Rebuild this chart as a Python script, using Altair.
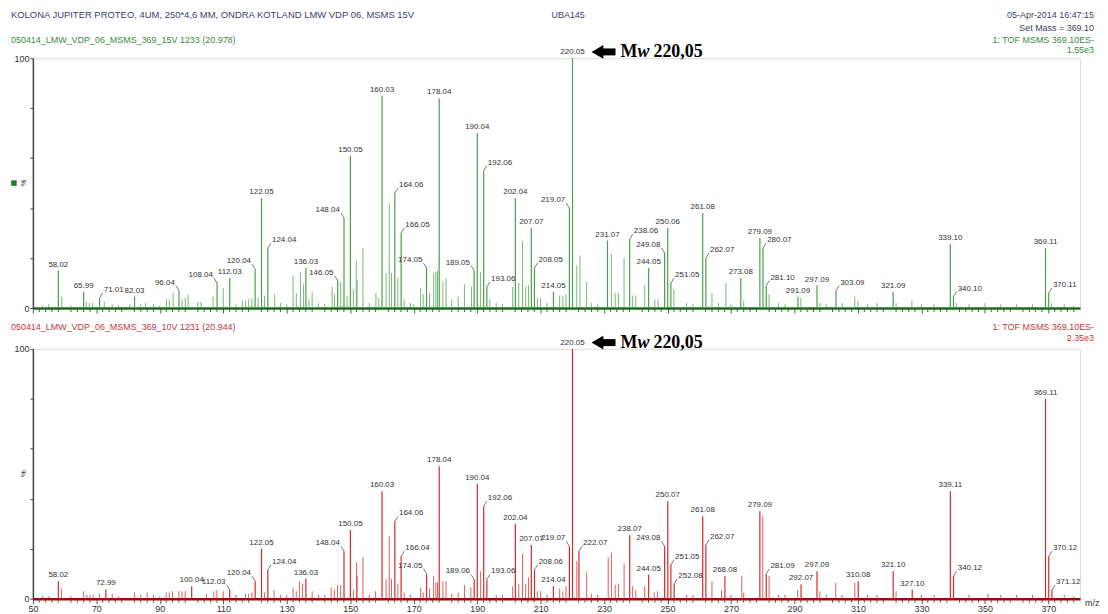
import altair as alt
import pandas as pd

# ---------------- data: top panel (MSMS 15 V) ----------------
top_lab_mz = [58.02, 65.99, 71.01, 82.03, 96.04, 108.04, 112.03, 120.04, 122.05, 124.04, 136.03, 146.05, 148.04, 150.05,
              160.03, 164.06, 166.05, 174.05, 178.04, 189.05, 190.04, 192.06, 193.06, 202.04, 207.07, 208.05, 214.05, 219.07, 220.05,
              231.07, 238.06, 244.05, 249.08, 250.06, 251.05, 261.08, 262.07, 273.08, 279.09, 280.07, 281.10, 291.09, 297.09, 303.09,
              321.09, 339.10, 340.10, 369.11, 370.11]
top_lab_int = [15, 6.5, 4, 4.5, 7, 10, 12, 15.5, 44, 24, 16, 11, 36, 61,
               85, 46, 30, 16, 84, 15, 70, 55, 8.5, 44, 32, 16, 6.5, 40, 100,
               27, 27.5, 16, 22, 32, 10, 38, 20, 12, 28, 24, 9, 4.5, 9, 7,
               6.5, 25.5, 4.5, 24, 6]
top_minor_mz = [53, 55, 59.1, 62, 66.8, 67.8, 68.8, 72.5, 75, 77, 80.5, 84, 85.5, 88, 90, 92.1, 93.0, 94.2, 97.0, 98.0, 98.9,
                102.0, 103.0, 106.8, 110.0, 114, 116, 117, 118, 119, 121, 123, 126.2, 128, 130, 132, 133, 134.3, 135.3, 137, 138,
                140, 142, 144.3, 145, 147, 149, 151, 151.9, 152.2, 154, 156, 158.1, 159, 161.3, 162.3, 163, 165, 167, 169, 170,
                172.2, 173, 175, 176.3, 177, 177.5, 179.2, 180.2, 182, 184, 186, 188.2, 191.1, 194, 196, 198, 201.2, 203.1, 204.3,
                205.3, 206.2, 209, 210, 212, 216, 217, 218, 221.4, 222.4, 224.5, 226, 228, 232.3, 233.5, 234.5, 236.3, 239, 240,
                242.8, 246, 247, 252, 256, 258, 264, 266, 268.4, 270, 274, 282, 285, 287, 292, 298, 300, 305, 309, 310, 313, 316,
                322, 327, 330, 334, 341, 345, 350, 355, 360, 365, 371, 375, 378]
top_minor_int = [1, 1.5, 4.5, 1, 2.5, 2, 2, 2.5, 1.5, 1, 1.5, 1.5, 2, 1.5, 1, 3.5, 3.5, 6, 3.5, 4, 5.5,
                 2.5, 2.5, 4.5, 8, 1.5, 3, 3, 3.5, 4, 4, 5, 5.5, 2, 1.5, 13, 6, 14.5, 9.5, 3.5, 6.5,
                 2, 1.5, 8.5, 5.5, 10.5, 5, 7.5, 19, 11, 24, 2, 6, 4, 14, 42, 14, 12, 3.5, 2, 1.5,
                 8, 5.5, 6, 14, 14.5, 15, 10.5, 12, 3.5, 4.5, 9.5, 8.5, 14.5, 3.5, 2, 1.5, 8.5, 10, 26.7,
                 8.5, 9, 4, 4, 2, 5, 5, 5.5, 17, 21, 10.5, 2, 1.5, 21.5, 6, 6, 20, 5, 5,
                 9, 3.5, 3.5, 7.5, 2, 1.5, 6, 2, 10, 1.5, 3, 5.5, 2, 1.5, 4, 2, 1.5, 2, 4.5, 3, 1.5, 2,
                 2, 3, 1.5, 1.5, 2, 1.5, 2, 1.5, 1.5, 1.5, 2, 1.5, 1]
top_right = {"71.01", "124.04", "164.06", "166.05", "192.06", "193.06", "208.05", "238.06", "251.05", "262.07",
             "280.07", "281.10", "303.09", "340.10", "370.11"}
top_left = {"96.04", "108.04", "120.04", "146.05", "148.04", "174.05", "189.05", "219.07", "249.08"}

# ---------------- data: bottom panel (MSMS 10 V) ----------------
bot_lab_mz = [58.02, 72.99, 100.04, 112.03, 120.04, 122.05, 124.04, 136.03, 148.04, 150.05,
              160.03, 164.06, 166.04, 174.05, 178.04, 189.06, 190.04, 192.06, 193.06, 202.04, 207.07, 208.06, 214.04, 219.07,
              220.05, 222.07, 238.07, 244.05, 249.08, 250.07, 251.05, 252.08, 261.08, 262.07, 268.08,
              279.09, 281.09, 292.07, 297.09, 310.08, 321.10, 327.10, 339.11, 340.12, 369.11, 370.12, 371.12]
bot_lab_int = [7, 3.7, 5, 3.5, 7, 20, 11.6, 8, 19, 27.5,
               43, 31, 17, 10, 53, 7.7, 46, 37, 7.7, 30, 21.5, 11.6, 5, 21,
               100, 19, 25.5, 9.6, 21, 39, 13.6, 6, 33, 21.5, 9,
               35, 10, 5.7, 11, 7, 11, 3.6, 43, 9, 80, 17, 3.5]
bot_minor_mz = [53, 55, 59, 62, 66, 67, 68, 69, 71, 75, 77, 82, 84, 86, 88, 90, 92, 93, 94, 96, 97, 98, 104.7, 107, 108, 110,
                114, 117, 118, 119, 123, 126, 128, 130, 132, 133, 134, 135, 138, 140, 142, 144, 145, 146, 147, 151, 152, 152.2,
                154, 156, 158, 161.3, 162.3, 163, 165, 167, 169, 172.2, 173, 175, 176.3, 177, 177.5, 179.2, 180.2, 182, 184, 186,
                188, 191.1, 196, 198, 201.2, 203.1, 204.3, 205.3, 206.2, 209, 210, 212, 216, 217, 218, 221.4, 224.5, 226, 228,
                231.3, 232.3, 233.5, 234.5, 236.3, 239, 240, 242.8, 245.8, 246.8, 256, 258, 264, 267, 270, 273.4, 274, 280, 282,
                285, 287, 291, 298, 300, 303, 305, 309, 313, 316, 322, 330, 334, 345, 351, 355, 360, 365, 375, 378]
bot_minor_int = [1, 1, 4, 1, 3, 1.5, 1.5, 1.5, 2, 2, 1, 2.5, 1.5, 2.5, 1.5, 1, 2.5, 2.5, 3, 3, 3, 3, 2, 3, 3.5, 3,
                 1.5, 2, 2, 2.5, 2.5, 3.5, 1.5, 1.5, 4.5, 3, 7, 6, 3, 1.5, 1.5, 4.5, 3.5, 5.5, 5.5, 3.5, 14.3, 9,
                 16.5, 1.5, 3, 7.7, 25, 8, 6, 2.5, 1.5, 4.5, 2.5, 4, 9, 6.5, 6.5, 7, 7, 2, 2.5, 5.5,
                 4.5, 11, 1.5, 1.5, 5, 6, 18, 6, 8.5, 3, 3, 1.5, 4, 3, 5, 15, 10.5, 2, 1.5,
                 16.5, 18.5, 5.5, 6, 14, 5, 3.5, 5, 2.5, 3, 1.5, 1.5, 7, 3.5, 1.5, 9, 2.5, 33, 9,
                 1.5, 1.5, 3.5, 3, 1.5, 6.3, 1.5, 6.3, 1.5, 1.5, 3, 1.5, 1.5, 1.5, 2, 1.5, 1.5, 1.5, 1.5, 1]
bot_right = {"124.04", "164.06", "166.04", "192.06", "193.06", "208.06", "222.07", "251.05", "252.08", "262.07",
             "281.09", "340.12", "370.12", "371.12"}
bot_left = {"112.03", "120.04", "148.04", "174.05", "189.06", "219.07", "249.08"}

x_major = list(range(50, 381, 10))
x_minor = [v for v in range(50, 381, 2) if v % 10]
y_ticks = list(range(0, 101, 10))

SANS = "Liberation Sans"
SERIF = "Liberation Serif"
HEAD = "#3d3d66"
LABEL = "#333333"

W, H = 1052, 251
xs = alt.Scale(domain=[50, 380], nice=False, zero=False)
ys = alt.Scale(domain=[0, 100], nice=False)


def hdr(text, px, py, color, align="left", size=9):
    return alt.Chart(pd.DataFrame({"t": [text]})).mark_text(
        align=align, baseline="middle", font=SANS, fontSize=size, color=color
    ).encode(x=alt.value(px), y=alt.value(py), text="t:N")


def panel(lab_mz, lab_int, minor_mz, minor_int, rset, lset, stick, base, show_labels, extra):
    lab = pd.DataFrame({"mz": lab_mz, "inten": lab_int})
    lab["label"] = [f"{m:.2f}" for m in lab_mz]
    lab["side"] = ["R" if s in rset else ("L" if s in lset else "C") for s in lab["label"]]
    minor = pd.DataFrame({"mz": minor_mz, "inten": minor_int})

    xaxis = alt.Axis(values=x_major, labels=show_labels, labelOverlap=False, labelFlush=False,
                     labelFont=SANS, labelFontSize=9, labelColor=LABEL, labelPadding=1,
                     tickSize=5, tickColor="#555555", domainColor=base, domainWidth=2.5,
                     grid=False, title=None)
    yaxis = alt.Axis(values=y_ticks, labelExpr="datum.value === 0 || datum.value === 100 ? datum.label : ''",
                     labelFont=SANS, labelFontSize=9, labelColor=LABEL, tickSize=3, tickColor="#444444",
                     domainColor="#444444", domainWidth=1.5, grid=False, title=None, labelPadding=1)

    X = alt.X("mz:Q", scale=xs, axis=xaxis)
    Y = alt.Y("inten:Q", scale=ys, axis=yaxis)

    minor_l = alt.Chart(minor).mark_rule(color=stick, strokeWidth=1, opacity=0.75).encode(
        x=X, y=Y, y2=alt.datum(0))
    main_l = alt.Chart(lab).mark_rule(color=stick, strokeWidth=1.2).encode(
        x=alt.X("mz:Q", scale=xs), y=alt.Y("inten:Q", scale=ys), y2=alt.datum(0))
    # minor axis ticks (every 2 m/z units)
    mticks = alt.Chart(pd.DataFrame({"mz": x_minor})).mark_rule(color="#555555", strokeWidth=1).encode(
        x=alt.X("mz:Q", scale=xs), y=alt.value(H + 1), y2=alt.value(H + 4))

    c_txt = alt.Chart(lab).transform_filter("datum.side === 'C'").mark_text(
        baseline="bottom", dy=-2, font=SANS, fontSize=8, color=LABEL
    ).encode(x=alt.X("mz:Q", scale=xs), y=alt.Y("inten:Q", scale=ys), text="label:N")

    layers = [minor_l, main_l, mticks, c_txt]
    for side, sgn, al in (("R", 1, "left"), ("L", -1, "right")):
        base_c = alt.Chart(lab).transform_filter(f"datum.side === '{side}'").transform_calculate(
            lx=f"datum.mz + {sgn} * 1.0", ly="datum.inten + 2")
        leader = base_c.mark_rule(color="#555555", strokeWidth=0.8).encode(
            x=alt.X("mz:Q", scale=xs), x2="lx:Q", y=alt.Y("inten:Q", scale=ys), y2="ly:Q")
        txt = base_c.mark_text(align=al, baseline="bottom", dx=sgn * 1, dy=1, font=SANS, fontSize=8,
                               color=LABEL).encode(
            x=alt.X("lx:Q", scale=xs), y=alt.Y("ly:Q", scale=ys), text="label:N")
        layers += [leader, txt]

    # arrow + "Mw 220,05" annotation
    arr_head = alt.Chart(pd.DataFrame({"mz": [227.9], "inten": [102.5]})).mark_point(
        shape="triangle-left", filled=True, size=190, color="black", opacity=1
    ).encode(x=alt.X("mz:Q", scale=xs), y=alt.Y("inten:Q", scale=ys))
    arr_body = alt.Chart(pd.DataFrame({"mz": [229.5], "mz2": [233.6], "inten": [102.5]})).mark_rule(
        color="black", strokeWidth=7
    ).encode(x=alt.X("mz:Q", scale=xs), x2="mz2:Q", y=alt.Y("inten:Q", scale=ys))
    mw = []
    for t, dx, style in (("M", 0, "normal"), ("w", 17, "italic"), ("220,05", 33, "normal")):
        mw.append(alt.Chart(pd.DataFrame({"mz": [235.2], "inten": [102.5], "t": [t]})).mark_text(
            align="left", baseline="middle", dx=dx, font=SERIF, fontSize=18, fontWeight="bold",
            fontStyle=style, color="black"
        ).encode(x=alt.X("mz:Q", scale=xs), y=alt.Y("inten:Q", scale=ys), text="t:N"))

    pct = alt.Chart(pd.DataFrame({"t": ["%"]})).mark_text(
        angle=270, font=SANS, fontSize=8, color=LABEL, baseline="middle", align="center"
    ).encode(x=alt.value(-9), y=alt.datum(50), text="t:N")

    layers += [arr_head, arr_body] + mw + [pct] + extra
    return alt.layer(*layers).properties(width=W, height=H)


GREEN_H = "#3a8a3a"
RED_H = "#c03a3a"

top_extra = [
    hdr("KOLONA JUPITER PROTEO, 4UM, 250*4,6 MM, ONDRA KOTLAND LMW VDP 06, MSMS 15V", -22, -43, HEAD, size=9.5),
    hdr("UBA145", 521, -43, HEAD),
    hdr("05-Apr-2014   16:47:15", 1066, -43, HEAD, "right"),
    hdr("Set Mass = 369.10", 1066, -30, HEAD, "right"),
    hdr("050414_LMW_VDP_06_MSMS_369_15V 1233 (20.978)", -22, -18, GREEN_H),
    hdr("1: TOF MSMS 369.10ES-", 1066, -18, GREEN_H, "right"),
    hdr("1.55e3", 1066, -8, GREEN_H, "right"),
    alt.Chart(pd.DataFrame({"v": [50]})).mark_square(size=30, color="#1f7a1f", opacity=1).encode(
        x=alt.value(-19), y=alt.datum(50)),
]
bot_extra = [
    hdr("050414_LMW_VDP_06_MSMS_369_10V 1231 (20.944)", -22, -22, RED_H),
    hdr("1: TOF MSMS 369.10ES-", 1066, -22, RED_H, "right"),
    hdr("2.35e3", 1066, -11, RED_H, "right"),
    hdr("m/z", 1057, 255, LABEL),
]

top = panel(top_lab_mz, top_lab_int, top_minor_mz, top_minor_int, top_right, top_left,
            "#4aa04a", "#1f6a1f", False, top_extra)
bot = panel(bot_lab_mz, bot_lab_int, bot_minor_mz, bot_minor_int, bot_right, bot_left,
            "#d42a2a", "#9a0a0a", True, bot_extra)

chart = alt.vconcat(top, bot, spacing=41, bounds="flush").properties(
    padding={"left": 2, "top": 0, "right": 0, "bottom": 0}
).configure_view(stroke=None).configure(background="white")

chart.save("out.html", embed_options={"renderer": "svg", "actions": False})
